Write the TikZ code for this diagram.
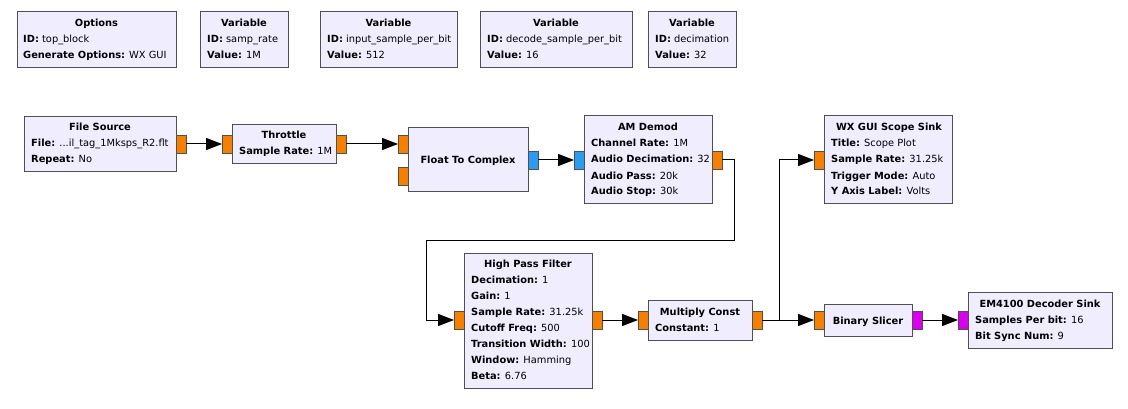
\documentclass[tikz,border=0pt]{standalone}
\usepackage{fontspec}
\setmainfont{DejaVu Sans}
\usetikzlibrary{arrows.meta}
\definecolor{blkc}{HTML}{F0EDFF}
\definecolor{bordc}{HTML}{505050}
\definecolor{fltc}{HTML}{F58000}
\definecolor{cpxc}{HTML}{2D9BF0}
\definecolor{bytc}{HTML}{D800EE}
\newcommand{\pv}[2]{\textbf{#1:} #2}
\begin{document}
\begin{tikzpicture}[x=1pt,y=-1pt, font=\fontsize{9.85}{12}\selectfont,
 blk/.style={draw=bordc, fill=blkc, line width=1pt, anchor=north west, inner sep=0pt, outer sep=0pt},
 port/.style={draw=bordc, line width=0.8pt, anchor=north west, inner sep=0pt, outer sep=0pt, minimum width=10pt, minimum height=18pt},
 fport/.style={port, fill=fltc},
 cport/.style={port, fill=cpxc},
 bport/.style={port, fill=bytc},
 ttl/.style={anchor=base, inner sep=0pt, font=\fontsize{9.85}{12}\selectfont\bfseries},
 prm/.style={anchor=base west, inner sep=0pt},
 wire/.style={draw=black, line width=1pt},
 arr/.style={wire, -{Triangle[length=16pt,width=12pt]}}]
\fill[white] (0,0) rectangle (1128,409);
\useasboundingbox (0,0) rectangle (1128,409);

% ---------- top row ----------
\node[blk, minimum width=159pt, minimum height=56pt] (opt) at (17,12) {};
\node[ttl] (optT) at (96.5,27) {Options};
\node[prm] (optA) at (23,43) {\pv{ID}{top\_block}};
\node[prm] (optB) at (23,59) {\pv{Generate Options}{WX GUI}};

\node[blk, minimum width=88pt, minimum height=56pt] (v1) at (200,12) {};
\node[ttl] (v1T) at (244,27) {Variable};
\node[prm] (v1A) at (207,43) {\pv{ID}{samp\_rate}};
\node[prm] (v1B) at (207,59) {\pv{Value}{1M}};

\node[blk, minimum width=137pt, minimum height=56pt] (v2) at (320,12) {};
\node[ttl] (v2T) at (388.5,27) {Variable};
\node[prm] (v2A) at (327,43) {\pv{ID}{input\_sample\_per\_bit}};
\node[prm] (v2B) at (327,59) {\pv{Value}{512}};

\node[blk, minimum width=152pt, minimum height=56pt] (v3) at (480,12) {};
\node[ttl] (v3T) at (556,27) {Variable};
\node[prm] (v3A) at (487,43) {\pv{ID}{decode\_sample\_per\_bit}};
\node[prm] (v3B) at (487,59) {\pv{Value}{16}};

\node[blk, minimum width=88pt, minimum height=56pt] (v4) at (648,12) {};
\node[ttl] (v4T) at (692,27) {Variable};
\node[prm] (v4A) at (655,43) {\pv{ID}{decimation}};
\node[prm] (v4B) at (655,59) {\pv{Value}{32}};

% ---------- flow blocks ----------
\node[blk, minimum width=152pt, minimum height=55pt] (fs) at (24,117) {};
\node[ttl] (fsT) at (100,131) {File Source};
\node[prm] (fsA) at (31,147) {\pv{File}{...il\_tag\_1Mksps\_R2.flt}};
\node[prm] (fsB) at (31,163) {\pv{Repeat}{No}};
\node[fport] (fs_o) at (176,135) {};

\node[blk, minimum width=104pt, minimum height=39pt] (thr) at (232,125) {};
\node[ttl] (thrT) at (284,139) {Throttle};
\node[prm] (thrA) at (239,155) {\pv{Sample Rate}{1M}};
\node[fport] (thr_i) at (222,135) {};
\node[fport] (thr_o) at (336,135) {};

\node[blk, minimum width=120pt, minimum height=64pt] (f2c) at (408,128) {};
\node[ttl] (f2cT) at (468,164) {Float To Complex};
\node[fport] (f2c_i1) at (398,135) {};
\node[fport] (f2c_i2) at (398,167) {};
\node[cport] (f2c_o) at (528,151) {};

\node[blk, minimum width=128pt, minimum height=88pt] (am) at (584,116) {};
\node[ttl] (amT) at (648,131) {AM Demod};
\node[prm] (amA) at (591,147) {\pv{Channel Rate}{1M}};
\node[prm] (amB) at (591,163) {\pv{Audio Decimation}{32}};
\node[prm] (amC) at (591,179) {\pv{Audio Pass}{20k}};
\node[prm] (amD) at (591,195) {\pv{Audio Stop}{30k}};
\node[cport] (am_i) at (574,151) {};
\node[fport] (am_o) at (712,151) {};

\node[blk, minimum width=128pt, minimum height=88pt] (wx) at (824,116) {};
\node[ttl] (wxT) at (889,131) {WX GUI Scope Sink};
\node[prm] (wxA) at (831,147) {\pv{Title}{Scope Plot}};
\node[prm] (wxB) at (831,163) {\pv{Sample Rate}{31.25k}};
\node[prm] (wxC) at (831,179) {\pv{Trigger Mode}{Auto}};
\node[prm] (wxD) at (831,195) {\pv{Y Axis Label}{Volts}};
\node[fport] (wx_i) at (814,151) {};

\node[blk, minimum width=128pt, minimum height=135pt] (hpf) at (464,253) {};
\node[ttl] (hpfT) at (528,267) {High Pass Filter};
\node[prm] (hpfA) at (471,283) {\pv{Decimation}{1}};
\node[prm] (hpfB) at (471,299) {\pv{Gain}{1}};
\node[prm] (hpfC) at (471,315) {\pv{Sample Rate}{31.25k}};
\node[prm] (hpfD) at (471,331) {\pv{Cutoff Freq}{500}};
\node[prm] (hpfE) at (471,347) {\pv{Transition Width}{100}};
\node[prm] (hpfF) at (471,363) {\pv{Window}{Hamming}};
\node[prm] (hpfG) at (471,379) {\pv{Beta}{6.76}};
\node[fport] (hpf_i) at (454,311) {};
\node[fport] (hpf_o) at (592,311) {};

\node[blk, minimum width=104pt, minimum height=40pt] (mc) at (648,300) {};
\node[ttl] (mcT) at (700,315) {Multiply Const};
\node[prm] (mcA) at (655,331) {\pv{Constant}{1}};
\node[fport] (mc_i) at (638,311) {};
\node[fport] (mc_o) at (752,311) {};

\node[blk, minimum width=88pt, minimum height=32pt] (bs) at (824,304) {};
\node[ttl] (bsT) at (868,324) {Binary Slicer};
\node[fport] (bs_i) at (814,311) {};
\node[bport] (bs_o) at (912,311) {};

\node[blk, minimum width=144pt, minimum height=56pt] (em) at (968,292) {};
\node[ttl] (emT) at (1040,307) {EM4100 Decoder Sink};
\node[prm] (emA) at (975,323) {\pv{Samples Per bit}{16}};
\node[prm] (emB) at (975,339) {\pv{Bit Sync Num}{9}};
\node[bport] (em_i) at (958,311) {};

% ---------- connections ----------
\draw[arr] (fs_o.east) -- (thr_i.west);
\draw[arr] (thr_o.east) -- (f2c_i1.west);
\draw[arr] (f2c_o.east) -- (am_i.west);
\draw[arr] (am_o.east) -- (734,160) -- (734,240) -- (426,240) |- (hpf_i.west);
\draw[arr] (hpf_o.east) -- (mc_i.west);
\coordinate (jn) at (779,320);
\draw[wire] (mc_o.east) -- (jn);
\draw[arr] (jn) |- (wx_i.west);
\draw[arr] (jn) -- (bs_i.west);
\draw[arr] (bs_o.east) -- (em_i.west);
\end{tikzpicture}
\end{document}
